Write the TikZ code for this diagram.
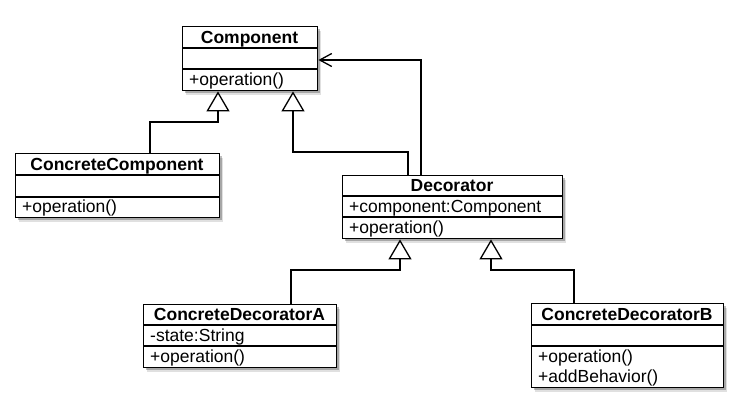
\documentclass[tikz,border=0pt]{standalone}
\usepackage{fontspec}
\setmainfont{Liberation Sans}
\usetikzlibrary{arrows.meta,shadows}
\begin{document}
\begin{tikzpicture}[x=1pt,y=-1pt,
  cls/.style={draw, line width=1.4pt, fill=white, inner sep=0pt, anchor=north west,
    drop shadow={shadow xshift=3.5pt, shadow yshift=-4pt, opacity=0.12, fill=black},
    drop shadow={shadow xshift=2pt, shadow yshift=-2.5pt, opacity=0.25, fill=black}},
  sep/.style={line width=1.4pt},
  ttl/.style={anchor=base, inner sep=0pt, font=\bfseries\fontsize{17.5}{20}\selectfont},
  attr/.style={anchor=base west, inner sep=0pt, font=\fontsize{17.5}{20}\selectfont},
  gen/.style={line width=1.3pt, -{Triangle[open, length=20pt, width=23pt, line width=1.3pt]}},
  assoc/.style={line width=1.3pt, -{Straight Barb[length=12pt, width=13pt, line width=1.3pt]}}
]
\fill[white] (0,0) rectangle (753,413);
\useasboundingbox (0,0) rectangle (753,413);

% Component
\node[cls, minimum width=135pt, minimum height=64pt] (comp) at (182,26) {};
\draw[sep] (182,48) -- (317,48);
\draw[sep] (182,69) -- (317,69);
\node[ttl] (compT) at (249.5,43) {Component};
\node[attr] (compO) at (189,85) {+operation()};

% ConcreteComponent
\node[cls, minimum width=204pt, minimum height=64pt] (cc) at (15,153) {};
\draw[sep] (15,175) -- (219,175);
\draw[sep] (15,197) -- (219,197);
\node[ttl] (ccT) at (117,170) {ConcreteComponent};
\node[attr] (ccO) at (22,212) {+operation()};

% Decorator
\node[cls, minimum width=220pt, minimum height=63pt] (dec) at (342,175) {};
\draw[sep] (342,196) -- (562,196);
\draw[sep] (342,217) -- (562,217);
\node[ttl] (decT) at (452,191) {Decorator};
\node[attr] (decA) at (349,212) {+component:Component};
\node[attr] (decO) at (349,233) {+operation()};

% ConcreteDecoratorA
\node[cls, minimum width=193pt, minimum height=63pt] (cda) at (143,304) {};
\draw[sep] (143,325) -- (336,325);
\draw[sep] (143,346) -- (336,346);
\node[ttl] (cdaT) at (239.5,320) {ConcreteDecoratorA};
\node[attr] (cdaA) at (150,341) {-state:String};
\node[attr] (cdaO) at (150,362) {+operation()};

% ConcreteDecoratorB
\node[cls, minimum width=192pt, minimum height=84pt] (cdb) at (531,303) {};
\draw[sep] (531,325) -- (723,325);
\draw[sep] (531,346) -- (723,346);
\node[ttl] (cdbT) at (627,320) {ConcreteDecoratorB};
\node[attr] (cdbO) at (538,362) {+operation()};
\node[attr] (cdbB) at (538,382) {+addBehavior()};

% routing coordinates
\coordinate (x150) at (150,0);
\coordinate (x408) at (408,0);
\coordinate (x291) at (291,0);
\coordinate (x574) at (574,0);
\coordinate (k1) at (218,122);
\coordinate (k2) at (293,152);
\coordinate (k3) at (421,60);
\coordinate (k4) at (400,270);
\coordinate (k5) at (491,270);

% connectors
\draw[gen] (cc.north -| x150) |- (k1) -- (comp.south -| k1);
\draw[gen] (dec.north -| x408) |- (k2) -- (comp.south -| k2);
\draw[assoc] (dec.north -| k3) -- (k3) -- (comp.east |- k3);
\draw[gen] (cda.north -| x291) |- (k4) -- (dec.south -| k4);
\draw[gen] (cdb.north -| x574) |- (k5) -- (dec.south -| k5);
\end{tikzpicture}
\end{document}
